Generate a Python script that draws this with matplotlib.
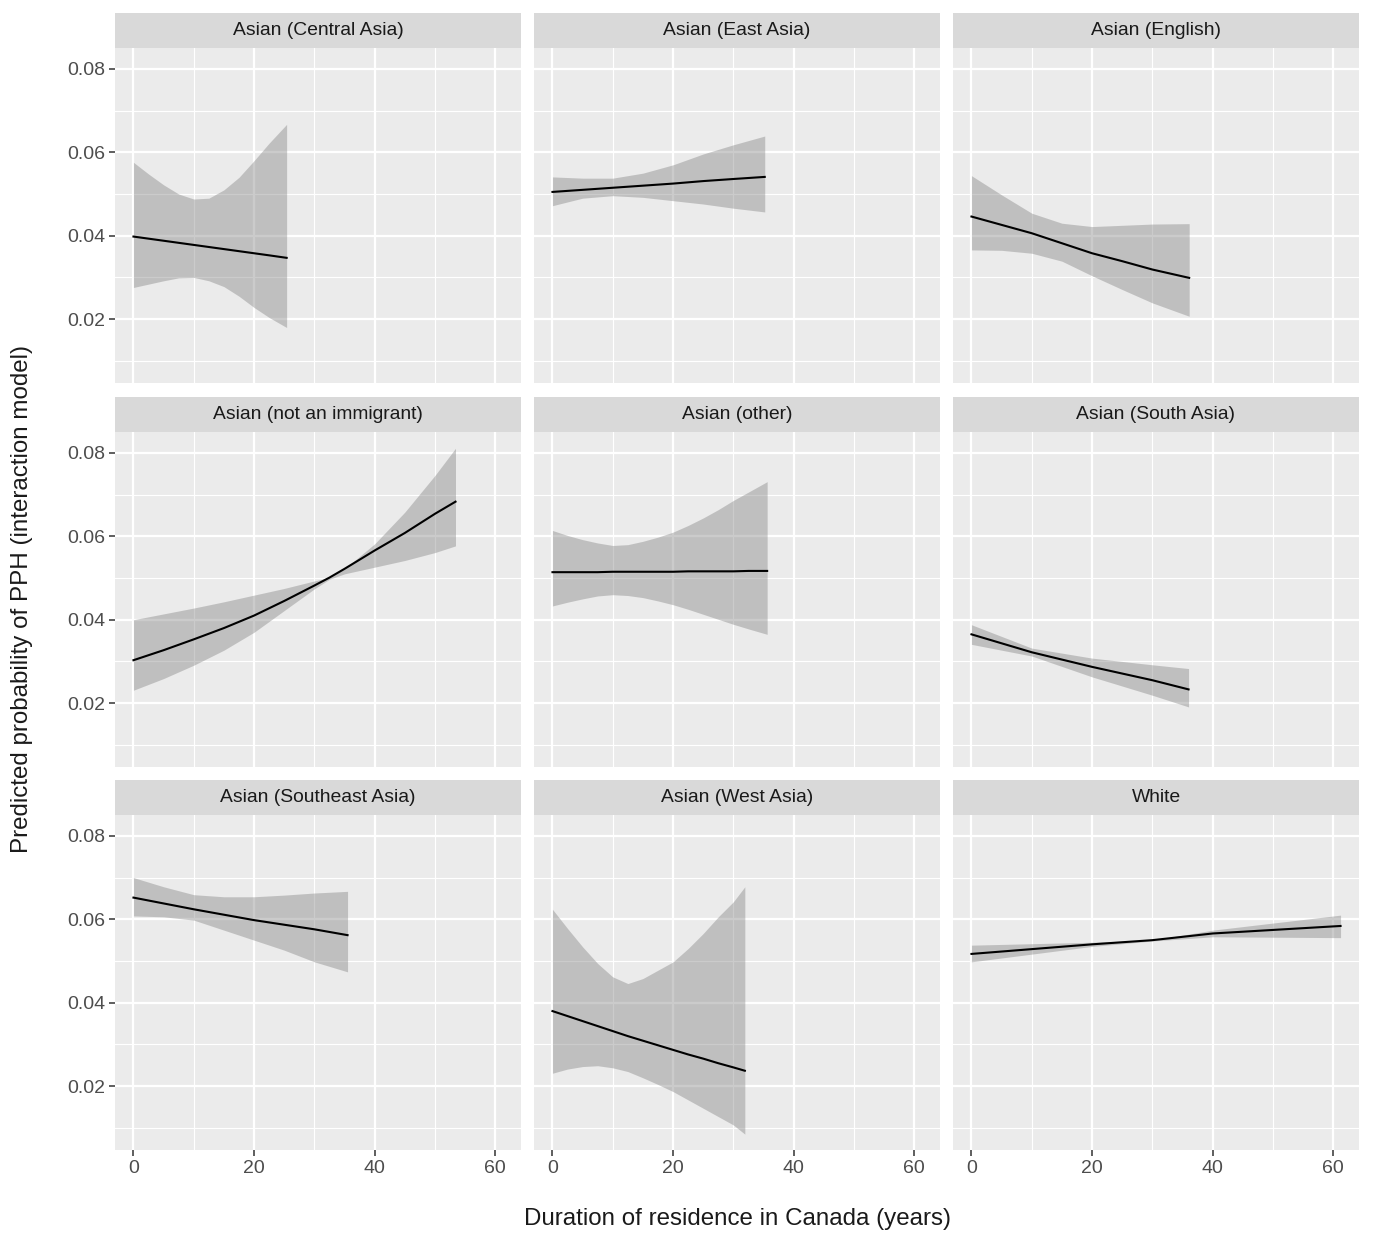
import numpy as np
import matplotlib
matplotlib.use("Agg")
from matplotlib import pyplot as plt
from matplotlib.ticker import MultipleLocator

plt.rcParams['font.family'] = ['Liberation Sans', 'DejaVu Sans']

# panel titles in facet order
groups = ["Asian (Central Asia)", "Asian (East Asia)", "Asian (English)",
          "Asian (not an immigrant)", "Asian (other)", "Asian (South Asia)",
          "Asian (Southeast Asia)", "Asian (West Asia)", "White"]

# years, fitted probability, lower and upper CI
central_x = [0, 2.5, 5, 7.5, 10, 12.5, 15, 17.5, 20, 22.5, 25.4]
central_fit = [0.0398, 0.0393, 0.0388, 0.0383, 0.0378, 0.0373, 0.0368, 0.0363,
               0.0358, 0.0353, 0.0347]
central_lo = [0.0276, 0.0284, 0.0292, 0.0299, 0.0300, 0.0292, 0.0278, 0.0255,
              0.0228, 0.0204, 0.0180]
central_hi = [0.0576, 0.0548, 0.0522, 0.0500, 0.0488, 0.0490, 0.0510, 0.0540,
              0.0580, 0.0622, 0.0667]

east_x = [0, 5, 10, 15, 20, 25, 30, 35.2]
east_fit = [0.0505, 0.0510, 0.0515, 0.0520, 0.0525, 0.0531, 0.0536, 0.0541]
east_lo = [0.0472, 0.0490, 0.0496, 0.0492, 0.0484, 0.0476, 0.0466, 0.0457]
east_hi = [0.0541, 0.0538, 0.0538, 0.0550, 0.0570, 0.0596, 0.0618, 0.0639]

english_x = [0, 5, 10, 15, 20, 25, 30, 36.1]
english_fit = [0.0446, 0.0426, 0.0406, 0.0382, 0.0358, 0.0339, 0.0319, 0.0299]
english_lo = [0.0366, 0.0365, 0.0358, 0.0339, 0.0304, 0.0271, 0.0239, 0.0207]
english_hi = [0.0544, 0.0498, 0.0454, 0.0430, 0.0422, 0.0425, 0.0428, 0.0429]

native_x = [0, 5, 10, 15, 20, 25, 30, 32.5, 35, 40, 45, 50, 53.4]
native_fit = [0.0303, 0.0327, 0.0353, 0.0380, 0.0410, 0.0445, 0.0482, 0.0501,
              0.0522, 0.0566, 0.0608, 0.0654, 0.0683]
native_lo = [0.0231, 0.0259, 0.0291, 0.0327, 0.0370, 0.0422, 0.0474, 0.0497,
             0.0510, 0.0526, 0.0542, 0.0561, 0.0577]
native_hi = [0.0400, 0.0414, 0.0428, 0.0443, 0.0459, 0.0475, 0.0493, 0.0501,
             0.0522, 0.0582, 0.0658, 0.0746, 0.0811]

other_x = [0, 2.5, 5, 7.5, 10, 12.5, 15, 17.5, 20, 22.5, 25, 27.5, 30, 32.5, 35.6]
other_fit = [0.0514, 0.0514, 0.0514, 0.0514, 0.0515, 0.0515, 0.0515, 0.0515,
             0.0515, 0.0516, 0.0516, 0.0516, 0.0516, 0.0517, 0.0517]
other_lo = [0.0433, 0.0442, 0.0450, 0.0457, 0.0460, 0.0458, 0.0453, 0.0445,
            0.0436, 0.0425, 0.0413, 0.0401, 0.0389, 0.0378, 0.0365]
other_hi = [0.0614, 0.0602, 0.0592, 0.0584, 0.0578, 0.0580, 0.0588, 0.0598,
            0.0610, 0.0626, 0.0644, 0.0664, 0.0686, 0.0706, 0.0731]

south_x = [0, 10, 20, 30, 36.0]
south_fit = [0.0365, 0.0322, 0.0287, 0.0255, 0.0233]
south_lo = [0.0341, 0.0313, 0.0263, 0.0219, 0.0191]
south_hi = [0.0388, 0.0332, 0.0308, 0.0292, 0.0283]

southeast_x = [0, 5, 10, 15, 20, 25, 30, 35.5]
southeast_fit = [0.0652, 0.0638, 0.0624, 0.0611, 0.0598, 0.0587, 0.0576, 0.0562]
southeast_lo = [0.0608, 0.0606, 0.0598, 0.0574, 0.0550, 0.0526, 0.0498, 0.0474]
southeast_hi = [0.0700, 0.0678, 0.0659, 0.0654, 0.0654, 0.0658, 0.0663, 0.0667]

west_x = [0, 2.5, 5, 7.5, 10, 12.5, 15, 17.5, 20, 22.5, 25, 27.5, 30, 31.9]
west_fit = [0.0380, 0.0368, 0.0356, 0.0344, 0.0332, 0.0320, 0.0309, 0.0298,
            0.0287, 0.0276, 0.0266, 0.0255, 0.0245, 0.0237]
west_lo = [0.0231, 0.0241, 0.0247, 0.0249, 0.0244, 0.0235, 0.0220, 0.0204,
           0.0187, 0.0167, 0.0147, 0.0127, 0.0107, 0.0085]
west_hi = [0.0624, 0.0578, 0.0534, 0.0494, 0.0462, 0.0446, 0.0458, 0.0478,
           0.0498, 0.0530, 0.0566, 0.0606, 0.0642, 0.0678]

white_x = [0, 20, 30, 40, 61.2]
white_fit = [0.0517, 0.0540, 0.0550, 0.0566, 0.0584]
white_lo = [0.0498, 0.0535, 0.0548, 0.0558, 0.0556]
white_hi = [0.0538, 0.0545, 0.0550, 0.0574, 0.0610]

series = [
    (central_x, central_fit, central_lo, central_hi),
    (east_x, east_fit, east_lo, east_hi),
    (english_x, english_fit, english_lo, english_hi),
    (native_x, native_fit, native_lo, native_hi),
    (other_x, other_fit, other_lo, other_hi),
    (south_x, south_fit, south_lo, south_hi),
    (southeast_x, southeast_fit, southeast_lo, southeast_hi),
    (west_x, west_fit, west_lo, west_hi),
    (white_x, white_fit, white_lo, white_hi),
]

W, H = 1375, 1249
fig = plt.figure(figsize=(W / 100, H / 100), dpi=100)

col_left = [115, 534, 953]
row_top = [48, 432, 815]
panel_w, panel_h = 406, 335
strip_h = 35

for i, (name, (xs, fit, lo, hi)) in enumerate(zip(groups, series)):
    r, c = divmod(i, 3)
    left = col_left[c] / W
    bottom = 1 - (row_top[r] + panel_h) / H
    ax = fig.add_axes([left, bottom, panel_w / W, panel_h / H])
    ax.set_facecolor('#ebebeb')
    for s in ax.spines.values():
        s.set_visible(False)
    ax.set_xlim(-3.06, 64.26)
    ax.set_ylim(0.0047, 0.085)
    ax.xaxis.set_major_locator(MultipleLocator(20))
    ax.xaxis.set_minor_locator(MultipleLocator(10))
    ax.yaxis.set_major_locator(MultipleLocator(0.02))
    ax.yaxis.set_minor_locator(MultipleLocator(0.01))
    ax.grid(which='major', color='white', linewidth=1.6)
    ax.grid(which='minor', color='white', linewidth=0.8)
    ax.set_axisbelow(True)
    ax.tick_params(which='minor', length=0)
    ax.tick_params(which='major', length=4, width=1.1, color='#333333',
                   labelsize=14, labelcolor='#4d4d4d', pad=3)
    ax.yaxis.set_major_formatter(plt.FuncFormatter(lambda v, p: f"{v:.2f}"))
    if c != 0:
        ax.tick_params(axis='y', which='major', length=0, labelleft=False)
    if r != 2:
        ax.tick_params(axis='x', which='major', length=0, labelbottom=False)

    ax.fill_between(xs, lo, hi, color='#7f7f7f', alpha=0.4, linewidth=0)
    ax.plot(xs, fit, color='black', linewidth=1.5)

    sax = fig.add_axes([left, 1 - (row_top[r]) / H, panel_w / W, strip_h / H])
    sax.set_facecolor('#d9d9d9')
    sax.set_xticks([])
    sax.set_yticks([])
    for s in sax.spines.values():
        s.set_visible(False)
    sax.text(0.5, 0.5, name, ha='center', va='center', fontsize=13.9,
             color='#1a1a1a', transform=sax.transAxes)

fig.text(737 / W, 1 - 1219 / H, "Duration of residence in Canada (years)",
         ha='center', va='center', fontsize=17.4, color='#1a1a1a')
fig.text(22 / W, 1 - 599 / H, "Predicted probability of PPH (interaction model)",
         ha='center', va='center', rotation=90, fontsize=17.4, color='#1a1a1a')

fig.savefig("out.png", dpi=100, facecolor='white')
